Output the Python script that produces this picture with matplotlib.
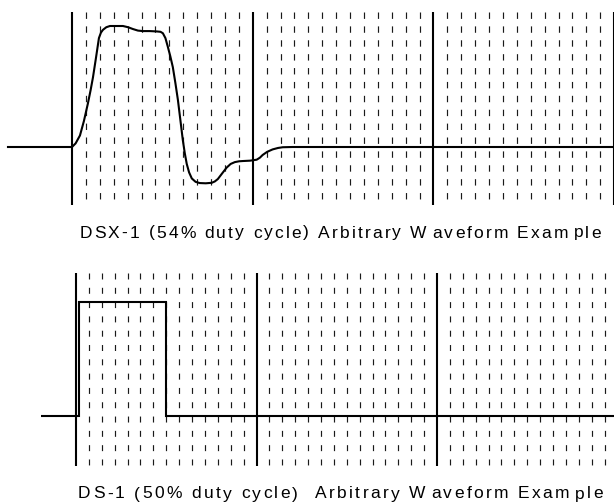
"""
DSX-1 / DS-1 arbitrary waveform examples on a scope-style grid.
"""

from __future__ import annotations

import matplotlib

matplotlib.use("Agg")

import matplotlib.pyplot as plt
from matplotlib.font_manager import FontProperties, findfont
from matplotlib.ft2font import FT2Font

W, H, DPI = 614, 503, 100

# top panel: DSX-1 shaped pulse, time in unit intervals, amplitude normalised
dsx_time = [-0.36, 0.0, 0.02, 0.044, 0.066, 0.088, 0.103, 0.116, 0.133, 0.149,
            0.16, 0.171, 0.19, 0.21, 0.25, 0.282, 0.31, 0.337, 0.365, 0.392,
            0.43, 0.47, 0.49, 0.503, 0.517, 0.53, 0.544, 0.558, 0.572, 0.586,
            0.6, 0.613, 0.624, 0.635, 0.648, 0.663, 0.684, 0.707, 0.74, 0.773,
            0.79, 0.807, 0.83, 0.856, 0.878, 0.901, 0.925, 0.945, 0.985, 1.022,
            1.04, 1.055, 1.08, 1.11, 1.14, 1.166, 1.22, 1.276, 3.0]
dsx_amp = [0.0, 0.0, 0.03, 0.095, 0.215, 0.36, 0.47, 0.575, 0.74, 0.9,
           0.945, 0.968, 0.99, 1.0, 1.0, 1.0, 0.99, 0.975, 0.962, 0.958,
           0.958, 0.955, 0.952, 0.94, 0.9, 0.83, 0.75, 0.66, 0.53, 0.39,
           0.22, 0.06, -0.05, -0.14, -0.21, -0.26, -0.288, -0.298, -0.3, -0.296,
           -0.285, -0.265, -0.22, -0.17, -0.14, -0.125, -0.118, -0.116, -0.113, -0.105,
           -0.088, -0.066, -0.04, -0.02, -0.008, -0.002, 0.0, 0.0, 0.0]

# bottom panel: DS-1 ideal 50% duty pulse
ds_time = [-0.194, 0.015, 0.015, 0.5, 0.5, 2.98]
ds_amp = [0.0, 0.0, 1.0, 1.0, 0.0, 0.0]

captions = [
    "DSX-1 (54% duty cycle) Arbitrary Waveform Example",
    "DS-1 (50% duty cycle)  Arbitrary Waveform Example",
]


def draw_grid(ax, n_minor, y_top, y_bottom, dash):
    for k in range(3 * n_minor + 1):
        x = k / n_minor
        if k % n_minor == 0:
            ax.plot([x, x], [y_top, y_bottom], color="black", lw=1.5,
                    solid_capstyle="butt", clip_on=False)
        else:
            ax.plot([x, x], [y_top, y_bottom], color="#1a1a1a", lw=0.85,
                    linestyle=(0, dash), clip_on=False)


def spaced_caption(fig, text, x0, x1, baseline, size=12.5, extra=3.5):
    # the source caption is letter-spaced, so lay the characters out one by one
    fp = FontProperties(family="Liberation Sans", size=size)
    font = FT2Font(findfont(fp))
    font.set_size(size, DPI)
    adv = [font.load_char(ord(c)).linearHoriAdvance / 65536 for c in text]
    gaps = {text.index("Waveform"), text.index("Example") + 3}
    n = len(text)
    track = (x1 - x0 - sum(adv[:-1]) - adv[-1] - extra * len(gaps)) / (n - 1)
    x = x0
    for i, c in enumerate(text):
        fig.text(x / W, 1 - baseline / H, c, fontproperties=fp,
                 ha="left", va="baseline", color="black")
        x += adv[i] + track + (extra if i in gaps else 0)


def main() -> None:
    plt.rcParams["lines.scale_dashes"] = False
    fig = plt.figure(figsize=(W / DPI, H / DPI), dpi=DPI)

    # top panel: 180.7 px per unit interval, 121 px per unit amplitude
    ax1 = fig.add_axes([0, 1 - 215 / H, 1, 215 / H])
    ax1.set_xlim(-72 / 180.7, (W - 72) / 180.7)
    ax1.set_ylim((147 - 215) / 121, 147 / 121)
    draw_grid(ax1, 13, (147 - 12) / 121, (147 - 205) / 121, (4.6, 5.4))
    ax1.plot(dsx_time, dsx_amp, color="black", lw=1.5,
             solid_joinstyle="round", solid_capstyle="butt")
    ax1.axis("off")

    # bottom panel: 180.5 px per unit interval, 114 px per unit amplitude
    ax2 = fig.add_axes([0, 1 - 475 / H, 1, 220 / H])
    ax2.set_xlim(-76 / 180.5, (W - 76) / 180.5)
    ax2.set_ylim((416 - 475) / 114, (416 - 255) / 114)
    draw_grid(ax2, 14, (416 - 273) / 114, (416 - 466) / 114, (4.3, 6.0))
    ax2.plot(ds_time, ds_amp, color="black", lw=1.5,
             solid_joinstyle="miter", solid_capstyle="butt")
    ax2.axis("off")

    spaced_caption(fig, captions[0], 79.5, 601, 237.5)
    spaced_caption(fig, captions[1], 78, 603, 498.5)

    fig.savefig("out.png", dpi=DPI)
    plt.close(fig)


if __name__ == "__main__":
    main()
